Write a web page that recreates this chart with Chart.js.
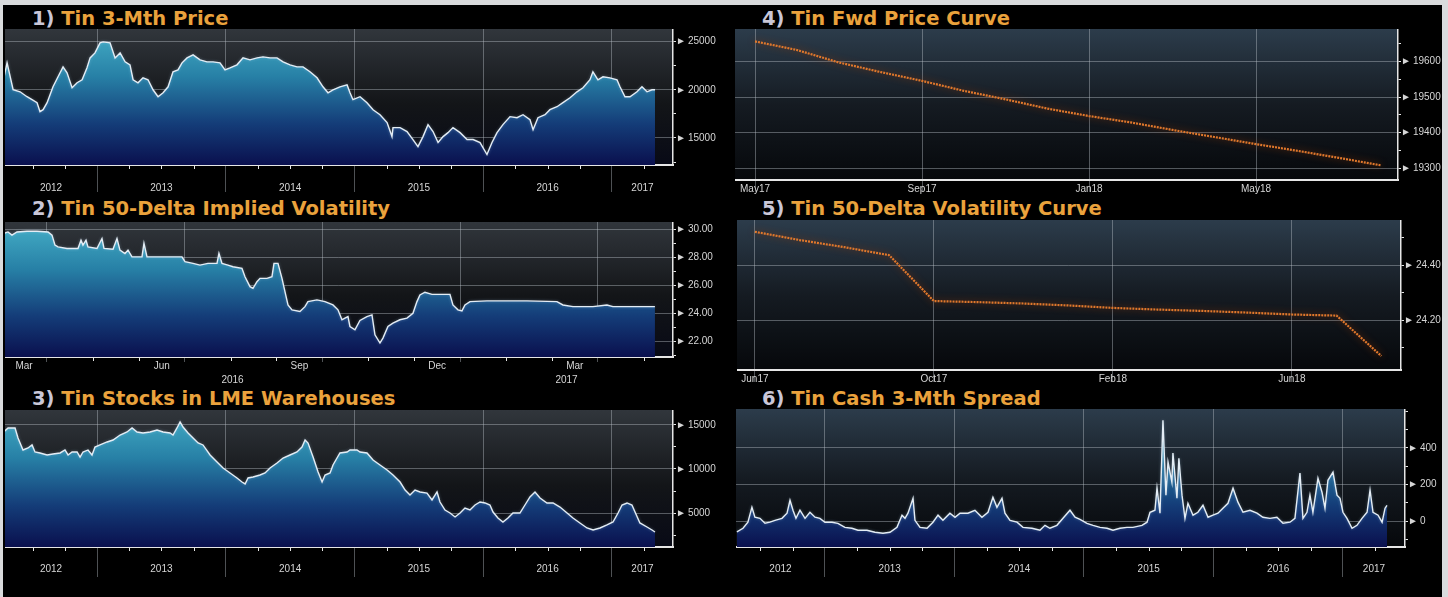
<!DOCTYPE html>
<html>
<head>
<meta charset="utf-8">
<script src="https://cdn.jsdelivr.net/npm/chart.js@4.4.1/dist/chart.umd.min.js"></script>
<style>
	html, body { margin: 0; padding: 0; }
	body { width: 1448px; height: 597px; background: #d9dbdd; position: relative; overflow: hidden; }
	#board { position: absolute; left: 3px; top: 5px; width: 1439px; height: 592px; background: #000; }
	.title { position: absolute; font: bold 19.5px "DejaVu Sans", sans-serif; line-height: 20px; color: #eaa23c; white-space: nowrap; }
	.title b { color: #c9c7d8; }
	canvas { position: absolute; }
</style>
</head>
<body>
<div id="board"></div>
<div class="title" style="left:32px;top:9px"><b>1)</b> Tin 3-Mth Price</div>
<div class="title" style="left:32px;top:199px"><b>2)</b> Tin 50-Delta Implied Volatility</div>
<div class="title" style="left:32px;top:389px"><b>3)</b> Tin Stocks in LME Warehouses</div>
<div class="title" style="left:762px;top:9px"><b>4)</b> Tin Fwd Price Curve</div>
<div class="title" style="left:762px;top:199px"><b>5)</b> Tin 50-Delta Volatility Curve</div>
<div class="title" style="left:762px;top:389px"><b>6)</b> Tin Cash 3-Mth Spread</div>
<canvas id="c1" width="715" height="168" style="left:5px;top:29px"></canvas>
<canvas id="c2" width="715" height="171" style="left:5px;top:222px"></canvas>
<canvas id="c3" width="715" height="169" style="left:5px;top:410px"></canvas>
<canvas id="c4" width="707" height="171" style="left:735px;top:29px"></canvas>
<canvas id="c5" width="705" height="170" style="left:737px;top:220px"></canvas>
<canvas id="c6" width="706" height="170" style="left:736px;top:409px"></canvas>
<script>
'use strict';

// ---- values ----
const yearLabels = ['2012', '2013', '2014', '2015', '2016', '2017'];

// 1) 3-mth price, [decimal year, USD/t]
const tinPrice = [
	[2012.278,21350],[2012.301,22800],[2012.348,20000],[2012.402,19790],[2012.456,19280],[2012.495,18970],
	[2012.534,18660],[2012.557,17730],[2012.581,17930],[2012.612,18660],[2012.635,19480],[2012.658,20310],
	[2012.697,21350],[2012.736,22380],[2012.767,21760],[2012.806,20210],[2012.845,20730],[2012.884,21040],
	[2012.922,22280],[2012.946,23310],[2012.984,23830],[2013.023,24870],[2013.047,24970],[2013.101,24870],
	[2013.140,23310],[2013.179,23830],[2013.218,22900],[2013.256,22590],[2013.280,21040],[2013.318,20730],
	[2013.357,21240],[2013.396,21040],[2013.435,20000],[2013.474,19280],[2013.513,19690],[2013.552,20310],
	[2013.590,21870],[2013.629,22070],[2013.660,22800],[2013.699,23310],[2013.746,23620],[2013.800,23110],
	[2013.854,22900],[2013.901,22900],[2013.955,22800],[2013.994,22070],[2014.033,22280],[2014.087,22590],
	[2014.134,23310],[2014.188,23110],[2014.243,23310],[2014.289,23420],[2014.344,23310],[2014.398,23310],
	[2014.445,22900],[2014.499,22590],[2014.553,22380],[2014.600,22380],[2014.654,21870],[2014.709,21240],
	[2014.755,20310],[2014.794,19690],[2014.833,20000],[2014.887,20310],[2014.942,20520],[2014.965,19690],
	[2014.988,18970],[2015.043,19280],[2015.097,18660],[2015.144,17930],[2015.198,17410],[2015.253,16590],
	[2015.291,15140],[2015.299,16070],[2015.354,16070],[2015.408,15660],[2015.454,14830],[2015.493,14100],
	[2015.532,15140],[2015.571,16380],[2015.610,15660],[2015.649,14520],[2015.688,15140],[2015.726,15550],
	[2015.765,16070],[2015.820,15550],[2015.874,14830],[2015.921,14830],[2015.975,14520],[2016.029,13280],
	[2016.068,14520],[2016.107,15550],[2016.153,16380],[2016.208,17210],[2016.262,17100],[2016.309,17410],
	[2016.363,16900],[2016.387,15860],[2016.425,17100],[2016.480,17410],[2016.518,17930],[2016.573,18240],
	[2016.619,18660],[2016.674,19170],[2016.728,19790],[2016.775,20210],[2016.829,21040],[2016.852,21870],
	[2016.891,21040],[2016.930,21350],[2016.984,21240],[2017.039,21040],[2017.062,20310],[2017.101,19280],
	[2017.140,19280],[2017.194,19790],[2017.233,20310],[2017.272,19790],[2017.311,20000],[2017.334,20000]
];
const priceMajor = [15000, 20000, 25000];
const priceMinor = [12500, 17500, 22500];

// 2) implied vol, [months since 1 Mar 2016, %]
const volMonths = ['Mar', 'Apr', 'May', 'Jun', 'Jul', 'Aug', 'Sep', 'Oct', 'Nov', 'Dec', 'Jan', 'Feb', 'Mar', 'Apr', 'May'];
const volYears = ['2016', '2017'];
const impliedVol = [
	[0.063,29.72],[0.150,29.83],[0.237,29.60],[0.346,29.83],[0.564,29.88],[0.782,29.88],[1.022,29.83],
	[1.109,29.60],[1.174,28.89],[1.240,28.76],[1.436,28.65],[1.675,28.65],[1.741,29.24],[1.784,28.89],
	[1.850,29.24],[1.893,28.76],[2.089,28.65],[2.198,29.36],[2.242,28.65],[2.438,28.60],[2.525,29.36],
	[2.590,28.53],[2.699,28.29],[2.765,28.53],[2.852,28.05],[3.070,28.05],[3.113,29.01],[3.179,28.05],
	[3.614,28.05],[3.941,28.05],[4.007,27.70],[4.181,27.58],[4.333,27.46],[4.508,27.58],[4.704,27.58],
	[4.747,28.29],[4.813,27.58],[4.943,27.46],[5.052,27.34],[5.248,27.23],[5.314,26.63],[5.423,25.92],
	[5.488,25.80],[5.575,26.27],[5.641,26.51],[5.793,26.51],[5.902,26.63],[5.946,27.58],[6.033,27.58],
	[6.120,26.51],[6.185,25.56],[6.251,24.61],[6.338,24.26],[6.512,24.14],[6.621,24.49],[6.686,24.85],
	[6.882,24.97],[7.057,24.85],[7.231,24.61],[7.340,24.26],[7.427,23.55],[7.492,23.67],[7.558,23.78],
	[7.601,23.07],[7.710,22.83],[7.819,23.50],[7.971,23.78],[8.081,23.90],[8.146,22.48],[8.255,21.89],
	[8.320,22.24],[8.429,23.07],[8.538,23.31],[8.690,23.55],[8.843,23.67],[8.974,24.02],[9.061,24.85],
	[9.126,25.33],[9.235,25.52],[9.388,25.37],[9.562,25.37],[9.780,25.37],[9.845,24.61],[9.954,24.26],
	[10.041,24.19],[10.107,24.61],[10.216,24.85],[10.586,24.90],[11.458,24.90],[12.111,24.85],[12.242,24.61],
	[12.460,24.49],[12.896,24.49],[13.201,24.61],[13.331,24.49],[13.767,24.49],[14.246,24.49]
];
const volMajor = [22, 24, 26, 28, 30];
const volMinor = [21, 23, 25, 27, 29];

// 3) LME stocks, [decimal year, tonnes]
const tinStocks = [
	[2012.278,14240],[2012.309,14660],[2012.363,14660],[2012.386,13520],[2012.425,12160],[2012.464,12390],
	[2012.495,12730],[2012.518,11930],[2012.557,11820],[2012.612,11590],[2012.658,11700],[2012.713,11820],
	[2012.751,12160],[2012.775,11590],[2012.806,11930],[2012.845,11930],[2012.868,11360],[2012.891,11930],
	[2012.930,12160],[2012.961,11590],[2012.984,12500],[2013.023,12730],[2013.078,13070],[2013.124,13290],
	[2013.179,13860],[2013.233,14200],[2013.272,14660],[2013.311,14200],[2013.357,14090],[2013.412,14200],
	[2013.466,14430],[2013.513,14200],[2013.567,14090],[2013.590,13860],[2013.621,14660],[2013.645,15340],
	[2013.668,14770],[2013.707,14090],[2013.746,13520],[2013.785,12950],[2013.823,12730],[2013.878,11590],
	[2013.932,10800],[2013.979,10110],[2014.033,9550],[2014.087,8980],[2014.126,8520],[2014.150,8300],
	[2014.173,8980],[2014.212,9090],[2014.266,9320],[2014.305,9550],[2014.344,10110],[2014.398,10680],
	[2014.445,11250],[2014.499,11590],[2014.553,11930],[2014.592,12500],[2014.616,13290],[2014.639,12950],
	[2014.678,11360],[2014.717,9660],[2014.748,8520],[2014.771,9320],[2014.810,9550],[2014.833,10450],
	[2014.864,11250],[2014.887,11820],[2014.942,11930],[2014.965,12160],[2015.019,12160],[2015.043,11930],
	[2015.097,11820],[2015.144,11020],[2015.198,10450],[2015.253,9890],[2015.299,9320],[2015.354,8520],
	[2015.393,7610],[2015.431,7050],[2015.470,7610],[2015.509,7390],[2015.563,7270],[2015.602,6480],
	[2015.641,7390],[2015.664,6250],[2015.703,5340],[2015.742,5000],[2015.781,4550],[2015.820,5000],
	[2015.858,5570],[2015.897,5340],[2015.936,5910],[2015.975,6250],[2016.014,6140],[2016.052,5910],
	[2016.076,5110],[2016.114,4430],[2016.153,3980],[2016.192,4430],[2016.231,5000],[2016.285,5000],
	[2016.324,5910],[2016.363,6820],[2016.402,7390],[2016.441,6710],[2016.495,6140],[2016.542,6140],
	[2016.596,5680],[2016.651,5000],[2016.697,4430],[2016.751,3870],[2016.806,3300],[2016.853,3070],
	[2016.907,3300],[2016.961,3640],[2017.008,3980],[2017.047,5000],[2017.078,5910],[2017.117,6140],
	[2017.155,5910],[2017.179,5110],[2017.217,3870],[2017.272,3410],[2017.311,3070],[2017.334,2840]
];
const stockMajor = [5000, 10000, 15000];
const stockMinor = [2500, 7500, 12500];

// 4) forward curve, one price per month
const fwdMonths = ['May17', 'Jun17', 'Jul17', 'Aug17', 'Sep17', 'Oct17', 'Nov17', 'Dec17',
	'Jan18', 'Feb18', 'Mar18', 'Apr18', 'May18', 'Jun18', 'Jul18', 'Aug18'];
const fwdPrices = [19657, 19633, 19598, 19571, 19546, 19518, 19494, 19468,
	19447, 19429, 19408, 19388, 19368, 19349, 19329, 19308];
const fwdMajor = [19300, 19400, 19500, 19600];
const fwdMinor = [19350, 19450, 19550, 19650];

// 5) vol curve, one value per month
const curveMonths = ['Jun17', 'Jul17', 'Aug17', 'Sep17', 'Oct17', 'Nov17', 'Dec17', 'Jan18',
	'Feb18', 'Mar18', 'Apr18', 'May18', 'Jun18', 'Jul18', 'Aug18'];
const curveVols = [24.521, 24.491, 24.465, 24.436, 24.269, 24.265, 24.260, 24.253,
	24.244, 24.238, 24.233, 24.227, 24.220, 24.216, 24.069];
const curveMajor = [24.2, 24.4];
const curveMinor = [24.1, 24.3, 24.5];

// 6) cash-3M spread, [decimal year, USD/t]
const tinSpread = [
	[2012.320,-58],[2012.367,-38],[2012.405,-5],[2012.436,76],[2012.459,22],[2012.498,16],[2012.537,-11],
	[2012.575,-5],[2012.614,5],[2012.668,16],[2012.707,44],[2012.730,114],[2012.753,60],[2012.776,16],
	[2012.807,60],[2012.846,16],[2012.884,49],[2012.923,22],[2012.961,16],[2013.000,-5],[2013.054,-5],
	[2013.100,-11],[2013.154,-33],[2013.208,-38],[2013.255,-49],[2013.324,-49],[2013.386,-60],[2013.448,-65],
	[2013.502,-60],[2013.556,-33],[2013.595,33],[2013.618,16],[2013.641,44],[2013.680,125],[2013.695,5],
	[2013.734,-33],[2013.788,-38],[2013.834,-5],[2013.873,33],[2013.911,5],[2013.965,44],[2014.004,22],
	[2014.043,44],[2014.104,44],[2014.158,60],[2014.212,22],[2014.259,49],[2014.297,131],[2014.328,76],
	[2014.367,125],[2014.390,44],[2014.429,5],[2014.483,-5],[2014.529,-33],[2014.598,-38],[2014.660,-49],
	[2014.699,-22],[2014.737,-38],[2014.791,-22],[2014.838,16],[2014.892,60],[2014.931,22],[2014.969,10],
	[2015.023,-11],[2015.070,-22],[2015.124,-33],[2015.178,-38],[2015.224,-49],[2015.278,-38],[2015.332,-33],
	[2015.378,-33],[2015.448,-22],[2015.487,-5],[2015.510,49],[2015.548,60],[2015.564,180],[2015.587,44],
	[2015.610,550],[2015.633,142],[2015.649,322],[2015.679,213],[2015.687,371],[2015.718,125],[2015.733,343],
	[2015.757,142],[2015.780,16],[2015.803,98],[2015.842,33],[2015.880,49],[2015.919,87],[2015.958,22],
	[2015.996,33],[2016.035,44],[2016.073,71],[2016.112,98],[2016.151,180],[2016.189,104],[2016.228,49],
	[2016.282,60],[2016.336,44],[2016.382,22],[2016.436,16],[2016.490,22],[2016.537,-11],[2016.591,-5],
	[2016.629,16],[2016.668,262],[2016.691,16],[2016.722,49],[2016.745,142],[2016.768,49],[2016.807,234],
	[2016.838,158],[2016.861,71],[2016.884,223],[2016.923,267],[2016.954,142],[2016.977,125],[2017.000,49],
	[2017.031,16],[2017.070,-38],[2017.108,-22],[2017.147,16],[2017.186,49],[2017.209,169],[2017.232,49],
	[2017.271,33],[2017.302,-5],[2017.325,71],[2017.340,87]
];
const spreadMajor = [0, 200, 400];
const spreadMinor = [-100, 100, 300, 500, 600];

// ---- look ----
const GRID = 'rgba(185,192,200,0.42)';
const AXIS = '#e6e6e6';
const TEXT = '#d6d6d6';
const FONT = {family: '"Liberation Sans", Arial, sans-serif', size: 10};
const BG_GREY = [[0, '#31363c'], [0.55, '#131518'], [1, '#080a16']];
const BG_BLUE = [[0, '#2c3c4b'], [0.5, '#151b22'], [1, '#06080b']];
const AREA = [[0, '#45afc7'], [0.35, '#2780a6'], [0.7, '#143c78'], [1, '#0a104e']];

const plotBg = {
	id: 'plotBg',
	beforeDraw(chart, args, opts) {
		const {ctx, chartArea: a} = chart;
		const g = ctx.createLinearGradient(0, a.top, 0, a.bottom);
		opts.stops.forEach(([p, c]) => g.addColorStop(p, c));
		ctx.save();
		ctx.fillStyle = g;
		ctx.fillRect(a.left, a.top, a.right - a.left, a.bottom - a.top);
		ctx.restore();
	}
};

const minorTicks = {
	id: 'minorTicks',
	afterDraw(chart, args, opts) {
		if (!opts.values || !opts.values.length) return;
		const {ctx, chartArea: a} = chart;
		const sx = chart.scales.x;
		ctx.save();
		ctx.strokeStyle = AXIS;
		ctx.lineWidth = 1;
		ctx.beginPath();
		for (let v of opts.values) {
			let px = Math.round(sx.getPixelForValue(v)) + 0.5;
			ctx.moveTo(px, a.bottom);
			ctx.lineTo(px, a.bottom + opts.length);
		}
		ctx.stroke();
		ctx.restore();
	}
};

const glow = {
	id: 'glow',
	beforeDatasetDraw(chart, args, opts) {
		chart.ctx.save();
		chart.ctx.shadowColor = opts.color;
		chart.ctx.shadowBlur = opts.blur;
	},
	afterDatasetDraw(chart) {
		chart.ctx.restore();
	}
};

function areaFill(context) {
	const chart = context.chart;
	const a = chart.chartArea;
	if (!a) return 'transparent';
	const g = chart.ctx.createLinearGradient(0, a.top, 0, a.bottom);
	AREA.forEach(([p, c]) => g.addColorStop(p, c));
	return g;
}

function yearTicks(min, max) {
	let out = [];
	yearLabels.forEach(n => {
		let y = Number(n);
		if (y > min && y < max) out.push({value: y, line: true});
		let a = Math.max(y, min), b = Math.min(y + 1, max);
		if (b > a) out.push({value: (a + b) / 2, name: n});
	});
	return out;
}

function quarterTicks(min, max) {
	let out = [];
	yearLabels.forEach(n => [0.25, 0.5, 0.75].forEach(q => {
		let v = Number(n) + q;
		if (v > min && v < max) out.push(v);
	}));
	return out;
}

function monthlyTicks(names, every) {
	let out = [];
	names.forEach((m, i) => { if (i % every == 0) out.push({value: i, name: m, line: true}); });
	return out;
}

function panel(id, o) {
	let big = new Set(o.yMajor);
	let yTicks = o.yMajor.concat(o.yMinor).sort((a, b) => a - b).map(v => ({value: v, big: big.has(v)}));
	let lineTick = c => (c.tick && c.tick.line) ? GRID : 'transparent';
	let scales = {
		x: {
			type: 'linear', position: 'bottom', min: o.xMin, max: o.xMax, z: 1,
			afterBuildTicks: s => { s.ticks = o.xTicks.map(t => Object.assign({}, t)); },
			afterFit: s => { s.height = o.xH; s.paddingLeft = 0; s.paddingRight = 0; },
			grid: {color: lineTick, tickColor: lineTick, tickLength: o.tickLen, lineWidth: 1},
			border: {color: AXIS, width: 2},
			ticks: {
				autoSkip: false, maxRotation: 0, padding: o.labelPad, color: TEXT, font: FONT,
				callback: (v, i, t) => t[i].name || '',
			},
		},
		y: {
			type: 'linear', position: 'right', min: o.yMin, max: o.yMax, z: 1,
			afterBuildTicks: s => { s.ticks = yTicks.map(t => Object.assign({}, t)); },
			afterFit: s => { s.width = o.yW; s.paddingTop = 0; s.paddingBottom = 0; },
			grid: {color: c => (c.tick && c.tick.big) ? GRID : 'transparent', tickColor: AXIS, tickLength: 3},
			border: {color: AXIS, width: 1.5},
			ticks: {
				autoSkip: false, padding: 0, color: TEXT, font: FONT,
				callback: (v, i, t) => t[i].big ? '\u25BA\u2009' + o.fmt(v) : '',
			},
		},
	};
	if (o.x2Ticks) {
		scales.x2 = {
			type: 'linear', position: 'bottom', weight: 1, min: o.xMin, max: o.xMax,
			afterBuildTicks: s => { s.ticks = o.x2Ticks.map(t => Object.assign({}, t)); },
			afterFit: s => { s.height = o.x2H; s.paddingLeft = 0; s.paddingRight = 0; },
			grid: {display: false},
			border: {display: false},
			ticks: {
				autoSkip: false, maxRotation: 0, padding: -7, color: TEXT, font: FONT,
				callback: (v, i, t) => t[i].name || '',
			},
		};
	}
	new Chart(document.getElementById(id), {
		type: 'line',
		data: {
			datasets: [{
				data: o.series.map(([x, y]) => ({x, y})),
				borderColor: o.line,
				borderWidth: o.lineWidth,
				borderDash: o.dash || [],
				pointRadius: 0,
				tension: 0,
				fill: o.area ? 'start' : false,
				backgroundColor: o.area ? areaFill : 'transparent',
			}]
		},
		options: {
			responsive: false,
			animation: false,
			events: [],
			layout: {padding: 0},
			plugins: {
				legend: {display: false},
				tooltip: {enabled: false},
				plotBg: {stops: o.bg},
				minorTicks: {values: o.minorX, length: 4},
				glow: {color: o.glowColor, blur: o.glowBlur},
			},
			scales: scales,
		},
		plugins: [plotBg, minorTicks, glow],
	});
}

const whiteLine = {line: '#e4edf5', lineWidth: 1.4, area: true, glowColor: 'rgba(190,225,255,0.35)', glowBlur: 3};
const orangeLine = {line: '#e0782c', lineWidth: 2.2, dash: [2, 1], area: false, glowColor: 'rgba(140,55,10,0.95)', glowBlur: 7};

// 1) price
{
	let xMin = 2012.285, xMax = 2017.474;
	panel('c1', Object.assign({}, whiteLine, {
		series: tinPrice, xMin, xMax, yMin: 12190, yMax: 26310,
		xTicks: yearTicks(xMin, xMax), minorX: quarterTicks(xMin, xMax),
		yMajor: priceMajor, yMinor: priceMinor, fmt: v => String(v),
		xH: 32, yW: 47, tickLen: 27, labelPad: -10, bg: BG_GREY,
	}));
}

// 2) implied vol
{
	let xMin = 0.085, xMax = 14.64;
	let ticks = [], minor = [];
	volMonths.forEach((m, i) => {
		if (i % 3 == 0) {
			ticks.push({value: i + 0.5, name: m});
			if (i + 1 < xMax) ticks.push({value: i + 1, line: true});
		} else if (i + 1 < xMax && (i + 1) % 3 != 1) {
			minor.push(i + 1);
		}
	});
	let jan = volMonths.indexOf('Jan');
	let yearRow = [
		{value: (xMin + jan) / 2, name: volYears[0]},
		{value: (jan + xMax) / 2, name: volYears[1]},
	];
	panel('c2', Object.assign({}, whiteLine, {
		series: impliedVol, xMin, xMax, yMin: 20.89, yMax: 30.54,
		xTicks: ticks, minorX: minor, x2Ticks: yearRow, x2H: 20,
		yMajor: volMajor, yMinor: volMinor, fmt: v => v.toFixed(2),
		xH: 16, yW: 47, tickLen: 5, labelPad: -2, bg: BG_GREY,
	}));
}

// 3) stocks
{
	let xMin = 2012.285, xMax = 2017.474;
	panel('c3', Object.assign({}, whiteLine, {
		series: tinStocks, xMin, xMax, yMin: 1140, yMax: 16700,
		xTicks: yearTicks(xMin, xMax), minorX: quarterTicks(xMin, xMax),
		yMajor: stockMajor, yMinor: stockMinor, fmt: v => String(v),
		xH: 32, yW: 47, tickLen: 30, labelPad: -14, bg: BG_GREY,
	}));
}

// 4) forward curve
panel('c4', Object.assign({}, orangeLine, {
	series: fwdPrices.map((v, i) => [i, v]), xMin: -0.48, xMax: 15.4, yMin: 19267, yMax: 19692,
	xTicks: monthlyTicks(fwdMonths, 4), minorX: [],
	yMajor: fwdMajor, yMinor: fwdMinor, fmt: v => String(v),
	xH: 20, yW: 44, tickLen: 12, labelPad: -9, bg: BG_BLUE,
}));

// 5) vol curve
panel('c5', Object.assign({}, orangeLine, {
	series: curveVols.map((v, i) => [i, v]), xMin: -0.40, xMax: 14.44, yMin: 24.018, yMax: 24.564,
	xTicks: monthlyTicks(curveMonths, 4), minorX: [],
	yMajor: curveMajor, yMinor: curveMinor, fmt: v => v.toFixed(2),
	xH: 20, yW: 41, tickLen: 12, labelPad: -9, bg: BG_BLUE,
}));

// 6) spread
{
	let xMin = 2012.313, xMax = 2017.479;
	panel('c6', Object.assign({}, whiteLine, {
		series: tinSpread, xMin, xMax, yMin: -140, yMax: 611,
		xTicks: yearTicks(xMin, xMax), minorX: quarterTicks(xMin, xMax),
		yMajor: spreadMajor, yMinor: spreadMinor, fmt: v => String(v),
		xH: 32, yW: 37, tickLen: 30, labelPad: -14, bg: BG_BLUE,
	}));
}
</script>
</body>
</html>
